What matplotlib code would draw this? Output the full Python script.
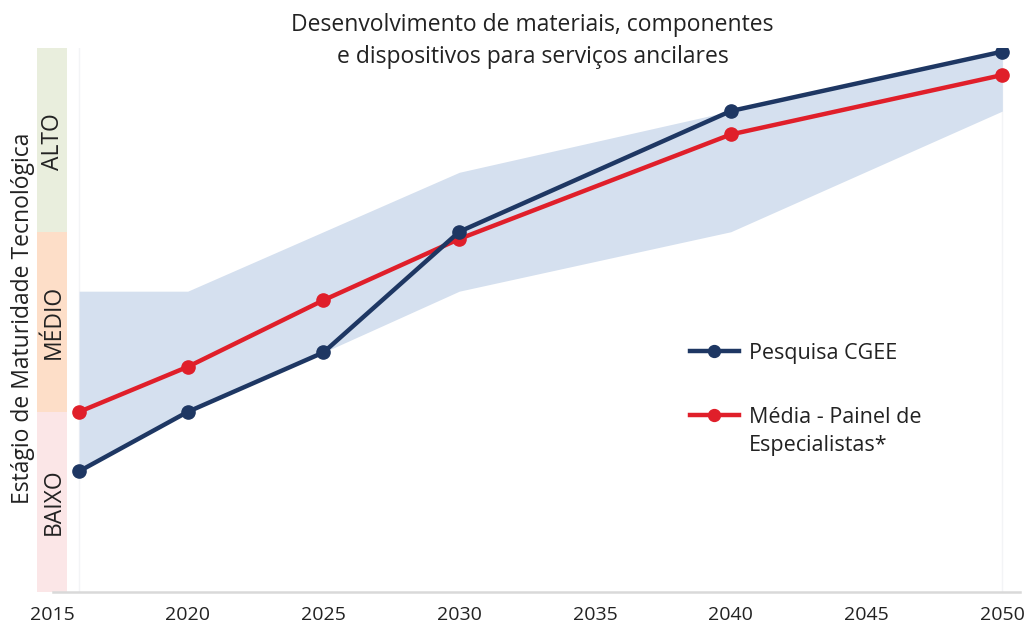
import matplotlib
matplotlib.use("Agg")
import matplotlib.pyplot as plt

plt.rcParams['font.family'] = ['Open Sans', 'DejaVu Sans']

anos = [2016, 2020, 2025, 2030, 2040, 2050]
pesquisa = [0.67, 1.0, 1.33, 2.0, 2.67, 3.0]
media = [1.0, 1.25, 1.62, 1.96, 2.54, 2.87]
faixa_inf = [0.67, 1.0, 1.33, 1.67, 2.0, 2.67]
faixa_sup = [1.67, 1.67, 2.0, 2.33, 2.67, 3.0]

niveis = ['BAIXO', 'MÉDIO', 'ALTO']
niveis_base = [0, 1, 2]
niveis_alt = [1, 1, 1.02]
niveis_cor = ['#FBE6E7', '#FDDEC8', '#E9EEDD']
xticks = [2015, 2020, 2025, 2030, 2035, 2040, 2045, 2050]

azul = '#1E3763'
vermelho = '#E01F2A'

fig = plt.figure(figsize=(10.3, 6.27), dpi=100)
ax = fig.add_axes([37/1030, 35/627, 983/1030, 544/627])
ax.set_xlim(2014.45, 2050.65)
ax.set_ylim(0, 3.02)

# faixa de niveis a esquerda
ax.barh([b + h/2 for b, h in zip(niveis_base, niveis_alt)], [1.1]*3,
        height=niveis_alt, left=2014.45, color=niveis_cor, zorder=1)
for nome, b, h in zip(niveis, niveis_base, niveis_alt):
    ax.text(2015.05, b + 0.5, nome, rotation=90, ha='center', va='center',
            fontsize=16.5, color='#222222', zorder=2)

for a in [anos[0], anos[-1]]:
    ax.axvline(a, color='#F3F4F6', lw=1, zorder=0)

ax.fill_between(anos, faixa_inf, faixa_sup, color='#D5E0EF', lw=0, zorder=2)
ax.plot(anos, pesquisa, color=azul, lw=3.2, marker='o', ms=9.5,
        label='Pesquisa CGEE', zorder=4)
ax.plot(anos, media, color=vermelho, lw=3.2, marker='o', ms=9.5,
        label='Média - Painel de\nEspecialistas*', zorder=3)

for s in ['top', 'right', 'left']:
    ax.spines[s].set_visible(False)
ax.spines['bottom'].set_color('#D9D9D9')
ax.spines['bottom'].set_linewidth(1.8)
ax.spines['bottom'].set_bounds(2015.05, 2050.65)
ax.set_yticks([])
ax.set_xticks(xticks)
ax.tick_params(axis='x', length=0, pad=10)
for lab in ax.get_xticklabels():
    lab.set_fontsize(14)
    lab.set_color('#222222')

leg = ax.legend(loc='upper left', bbox_to_anchor=(0.664, 0.457), frameon=False,
                fontsize=15.5, handlelength=2.3, labelspacing=2.0,
                handletextpad=0.45, borderpad=0, borderaxespad=0,
                labelcolor='#222222', markerscale=0.9)
for t in leg.get_texts():
    t.set_linespacing(1.4)
# handle alinhado com a primeira linha do texto
for col in leg._legend_handle_box.get_children():
    for row in col.get_children():
        row.align = 'top'

fig.text(0.517, 0.979, 'Desenvolvimento de materiais, componentes\ne dispositivos para serviços ancilares',
         ha='center', va='top', fontsize=16.5, color='#222222', linespacing=1.45)
fig.text(0.022, 0.493, 'Estágio de Maturidade Tecnológica', rotation=90,
         ha='center', va='center', fontsize=16.5, color='#222222')

fig.savefig('out.png', dpi=100)
